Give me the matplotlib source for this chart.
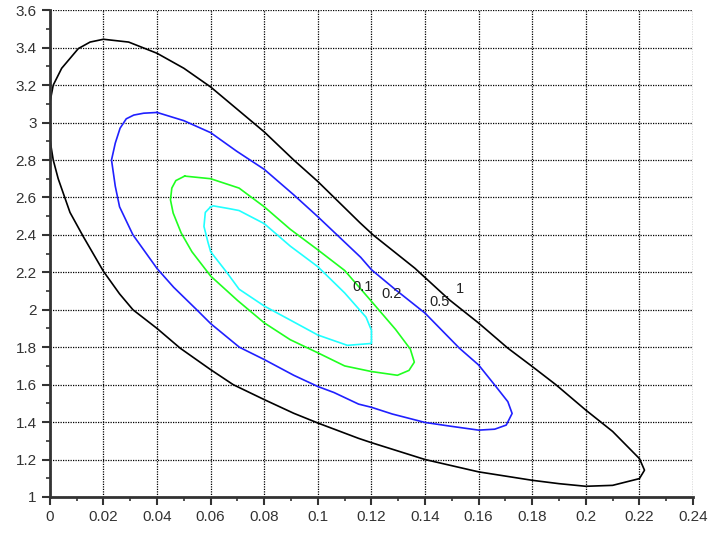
import matplotlib
matplotlib.use("Agg")
import matplotlib.pyplot as plt

# --- contour levels (closed curves) ---
lvl1_x = [0.0, 0.00125, 0.0044, 0.0106, 0.015, 0.02, 0.0294, 0.04, 0.05, 0.06, 0.07, 0.08,
          0.091, 0.1, 0.1157, 0.1206, 0.1362, 0.149, 0.16, 0.1709, 0.18, 0.1888, 0.2, 0.21,
          0.22, 0.2219, 0.22, 0.21, 0.2, 0.19, 0.18, 0.16, 0.14, 0.12, 0.1152, 0.1, 0.091,
          0.08, 0.0684, 0.06, 0.0486, 0.04, 0.031, 0.026, 0.02, 0.0125, 0.0075, 0.0031,
          0.00125, 0.0, 0.0]
lvl1_y = [3.107, 3.2, 3.29, 3.395, 3.43, 3.445, 3.43, 3.37, 3.29, 3.19, 3.07, 2.95,
          2.80, 2.685, 2.465, 2.40, 2.222, 2.054, 1.929, 1.795, 1.697, 1.60, 1.464, 1.35,
          1.205, 1.143, 1.098, 1.062, 1.057, 1.071, 1.089, 1.134, 1.2, 1.29, 1.313, 1.395,
          1.447, 1.52, 1.6, 1.68, 1.795, 1.90, 2.0, 2.085, 2.205, 2.39, 2.52, 2.70,
          2.8, 2.91, 3.107]

lvl05_x = [0.04, 0.035, 0.0313, 0.0285, 0.0262, 0.0244, 0.023, 0.0244, 0.026, 0.031, 0.04,
           0.0462, 0.0548, 0.06, 0.0707, 0.08, 0.091, 0.1, 0.106, 0.1152, 0.12, 0.1278, 0.14,
           0.149, 0.16, 0.166, 0.1703, 0.1725, 0.1709, 0.1665, 0.16, 0.1528, 0.14, 0.129,
           0.12, 0.116, 0.1, 0.091, 0.08, 0.0697, 0.06, 0.05, 0.04]
lvl05_y = [3.054, 3.05, 3.04, 3.02, 2.97, 2.89, 2.80, 2.66, 2.55, 2.40, 2.22,
           2.12, 2.0, 1.926, 1.80, 1.734, 1.65, 1.59, 1.558, 1.496, 1.479, 1.443, 1.398,
           1.379, 1.357, 1.362, 1.384, 1.446, 1.509, 1.589, 1.705, 1.795, 1.982, 2.107,
           2.214, 2.28, 2.497, 2.614, 2.75, 2.847, 2.946, 3.01, 3.054]

lvl02_x = [0.0503, 0.047, 0.0455, 0.045, 0.046, 0.049, 0.053, 0.06, 0.07, 0.08, 0.0897, 0.1,
           0.11, 0.12, 0.1297, 0.134, 0.136, 0.1345, 0.129, 0.12, 0.11, 0.1, 0.0897, 0.08,
           0.0706, 0.06, 0.0503]
lvl02_y = [2.714, 2.69, 2.65, 2.587, 2.517, 2.41, 2.31, 2.18, 2.05, 1.93, 1.84, 1.77,
           1.70, 1.67, 1.65, 1.676, 1.72, 1.79, 1.895, 2.045, 2.21, 2.32, 2.43, 2.55,
           2.65, 2.70, 2.714]

lvl01_x = [0.06, 0.058, 0.0575, 0.059, 0.06, 0.066, 0.0706, 0.08, 0.0897, 0.1, 0.111, 0.12,
           0.12, 0.118, 0.11, 0.1, 0.0897, 0.08, 0.0706, 0.067, 0.061, 0.06]
lvl01_y = [2.55, 2.52, 2.445, 2.36, 2.31, 2.20, 2.11, 2.02, 1.945, 1.865, 1.81, 1.82,
           1.89, 1.96, 2.09, 2.23, 2.34, 2.46, 2.53, 2.54, 2.555, 2.55]

levels = ["1", "0.5", "0.2", "0.1"]
colors = ["black", "#2020ff", "#20ff20", "#20ffff"]
label_x = [0.1530, 0.1455, 0.1275, 0.1168]
label_y = [2.112, 2.044, 2.085, 2.124]

fig = plt.figure(figsize=(7.23, 5.39), dpi=100)
ax = fig.add_axes([0.069, 0.078, 0.8895, 0.903])

curves = [(lvl1_x, lvl1_y), (lvl05_x, lvl05_y), (lvl02_x, lvl02_y), (lvl01_x, lvl01_y)]
for (cx, cy), c in zip(curves, colors):
    ax.plot(cx, cy, color=c, lw=1.2)

for t, lx, ly in zip(levels, label_x, label_y):
    ax.text(lx, ly, t, fontsize=10.5, family="Liberation Sans", color="#222222",
            ha="center", va="center")

ax.set_xlim(0, 0.24)
ax.set_ylim(1, 3.6)
ax.set_xticks([i * 0.02 for i in range(13)])
ax.set_xticklabels(["0", "0.02", "0.04", "0.06", "0.08", "0.1", "0.12", "0.14", "0.16",
                    "0.18", "0.2", "0.22", "0.24"])
ax.set_yticks([1 + i * 0.2 for i in range(14)])
ax.set_yticklabels(["1", "1.2", "1.4", "1.6", "1.8", "2", "2.2", "2.4", "2.6", "2.8",
                    "3", "3.2", "3.4", "3.6"])
ax.set_xticks([0.01 + i * 0.02 for i in range(12)], minor=True)
ax.set_yticks([1.1 + i * 0.2 for i in range(13)], minor=True)

ax.grid(True, which="major", color="black", linestyle=(0, (1, 1)), linewidth=0.9)
ax.spines["top"].set_visible(False)
ax.spines["right"].set_visible(False)
for s in ("left", "bottom"):
    ax.spines[s].set_color("#333333")
    ax.spines[s].set_linewidth(2)
ax.tick_params(which="major", direction="out", length=6, width=1.5, color="#333333",
               labelsize=11, labelcolor="#333333")
ax.tick_params(which="minor", direction="out", length=3, width=1.2, color="#333333")
for lab in ax.get_xticklabels() + ax.get_yticklabels():
    lab.set_family("Liberation Sans")

fig.savefig("out.png", dpi=100)
